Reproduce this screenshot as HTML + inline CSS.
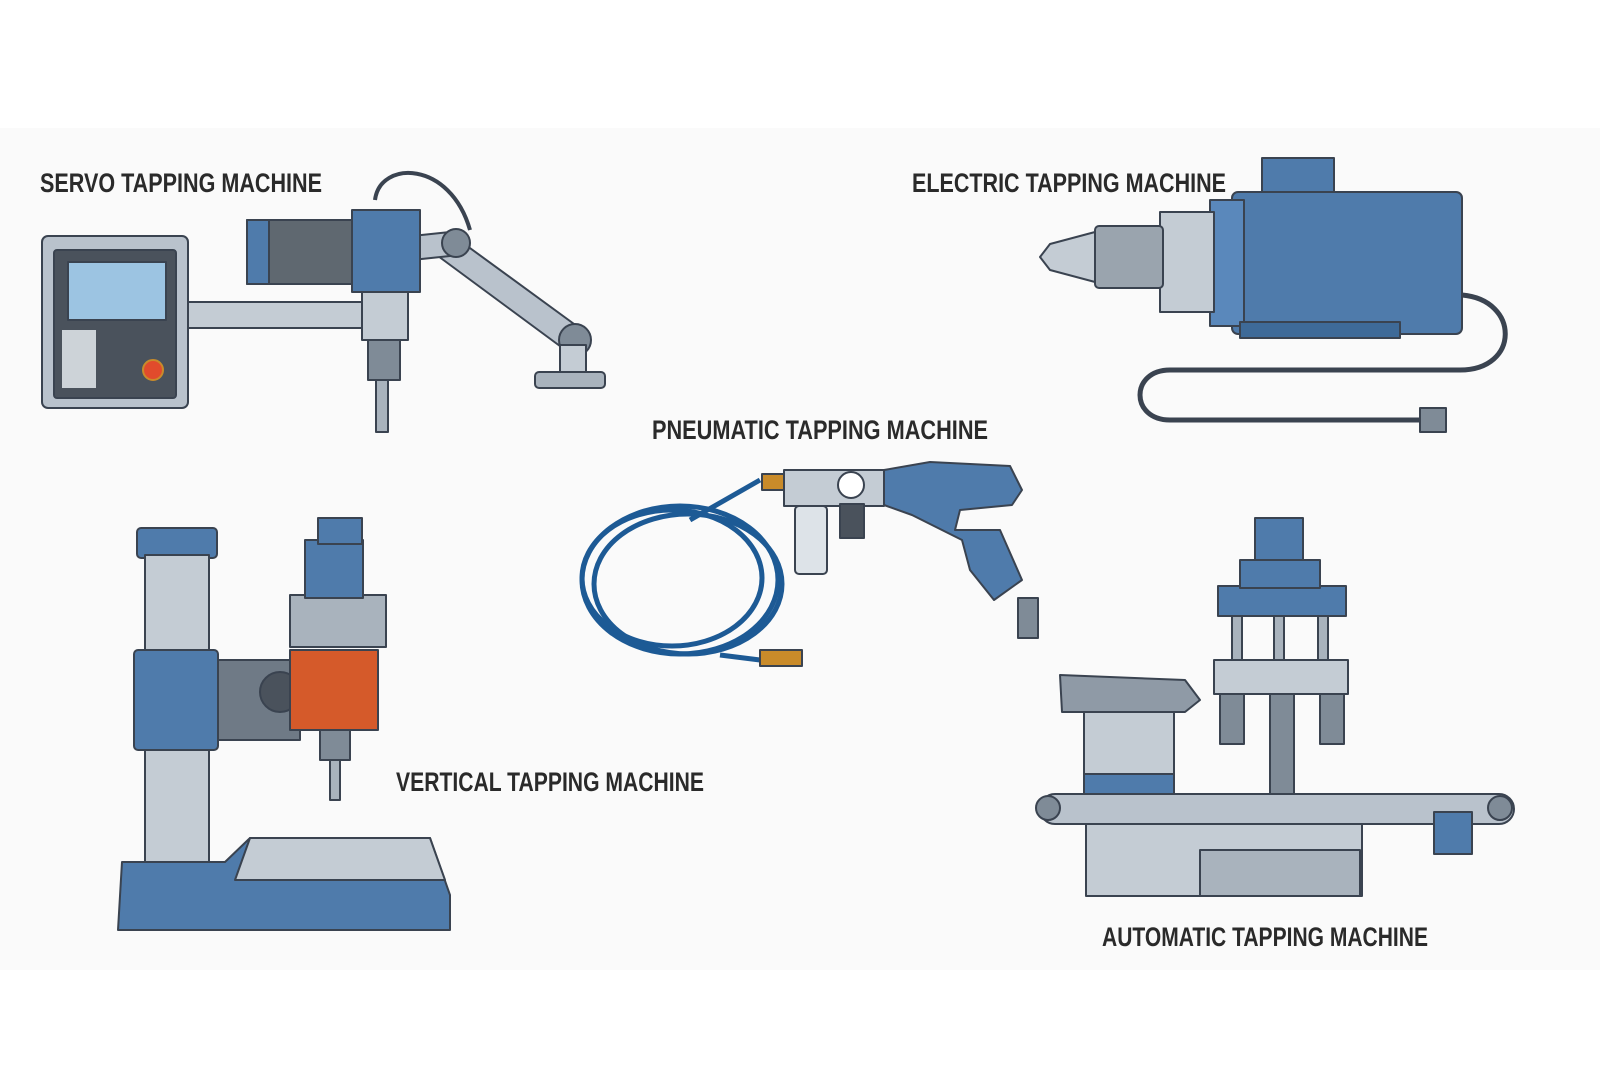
<!DOCTYPE html>
<html><head><meta charset="utf-8"><style>
html,body{margin:0;padding:0;background:#fff}
svg{display:block}
text{font-family:"Liberation Sans Narrow","Liberation Sans",sans-serif;fill:#2a2a2a;font-size:27px;font-weight:bold}
</style></head><body>
<svg width="1600" height="1066" viewBox="0 0 1600 1066" xmlns="http://www.w3.org/2000/svg">
<rect x="0" y="128" width="1600" height="842" fill="#fafafa"/>
<g stroke="#3a4350" stroke-width="2" stroke-linejoin="round">
<!-- SERVO -->
<rect x="42" y="236" width="146" height="172" rx="6" fill="#b9c2cc"/>
<rect x="54" y="250" width="122" height="148" rx="3" fill="#4a525c"/>
<rect x="68" y="262" width="98" height="58" fill="#9cc4e2"/>
<rect x="188" y="302" width="180" height="26" fill="#c4ccd4"/>
<path d="M448 232 L585 332 L568 352 L438 256 Z" fill="#b9c2cc"/>
<path d="M412 236 L450 232 L450 256 L412 260 Z" fill="#b9c2cc"/>
<circle cx="456" cy="243" r="14" fill="#7f8b97"/>
<circle cx="575" cy="340" r="16" fill="#7f8b97"/>
<rect x="560" y="345" width="26" height="30" fill="#c4ccd4"/>
<rect x="535" y="372" width="70" height="16" rx="4" fill="#a9b3bd"/>
<path d="M375 200 C380 160 450 160 470 230" fill="none" stroke-width="4"/>
<rect x="247" y="220" width="110" height="64" fill="#5f6870"/>
<rect x="247" y="220" width="22" height="64" fill="#4f7bab"/>
<rect x="352" y="210" width="68" height="82" fill="#4f7bab"/>
<rect x="362" y="292" width="46" height="48" fill="#c4ccd4"/>
<rect x="368" y="340" width="32" height="40" fill="#7f8b97"/>
<rect x="376" y="380" width="12" height="52" fill="#a9b3bd"/>
<rect x="62" y="330" width="100" height="58" fill="#4a525c" stroke="none"/>
<rect x="62" y="330" width="34" height="58" fill="#cdd3d8" stroke="none"/>
<circle cx="153" cy="370" r="10" fill="#e14b2c" stroke="#c98b2a"/>
<!-- ELECTRIC -->
<rect x="1262" y="158" width="72" height="40" fill="#4f7bab"/>
<rect x="1232" y="192" width="230" height="142" rx="6" fill="#4f7bab"/>
<rect x="1210" y="200" width="34" height="126" fill="#5a88bb"/>
<rect x="1160" y="212" width="54" height="100" fill="#c4ccd4"/>
<rect x="1095" y="226" width="68" height="62" rx="4" fill="#9aa4ae"/>
<path d="M1095 232 L1050 244 L1040 257 L1050 270 L1095 282 Z" fill="#c4ccd4"/>
<rect x="1240" y="322" width="160" height="16" fill="#3e6a98"/>
<path d="M1462 295 C1520 300 1520 370 1460 370 L1170 370 C1130 370 1130 420 1170 420 L1420 420" fill="none" stroke-width="5"/>
<rect x="1420" y="408" width="26" height="24" fill="#7f8b97"/>
<!-- PNEUMATIC -->
<g fill="none" stroke="#1d5a95" stroke-width="5">
<ellipse cx="680" cy="580" rx="98" ry="74"/>
<ellipse cx="672" cy="578" rx="90" ry="68"/>
<ellipse cx="688" cy="584" rx="94" ry="70"/>
</g>
<path d="M760 480 L690 520" stroke="#1d5a95" stroke-width="5"/>
<path d="M720 655 L760 660" stroke="#1d5a95" stroke-width="5"/>
<rect x="760" y="650" width="42" height="16" fill="#c98b2a"/>
<rect x="762" y="474" width="22" height="16" fill="#c98b2a"/>
<rect x="784" y="470" width="100" height="36" fill="#c4ccd4"/>
<circle cx="851" cy="485" r="13" fill="#fff"/>
<rect x="795" y="506" width="32" height="68" rx="4" fill="#dde3e8"/>
<rect x="840" y="504" width="24" height="34" fill="#4a525c"/>
<path d="M884 470 L930 462 L1010 466 L1022 490 L1012 505 L960 510 L955 530 L1000 530 L1022 580 L994 600 L970 570 L962 540 L912 515 L884 505 Z" fill="#4f7bab"/>
<rect x="1018" y="598" width="20" height="40" fill="#7f8b97"/>
<!-- VERTICAL -->
<rect x="137" y="528" width="80" height="30" rx="4" fill="#4f7bab"/>
<rect x="145" y="555" width="64" height="310" fill="#c4ccd4"/>
<rect x="134" y="650" width="84" height="100" rx="4" fill="#4f7bab"/>
<path d="M218 660 L300 660 L300 740 L218 740 Z" fill="#6f7a86"/>
<circle cx="280" cy="692" r="20" fill="#4a525c"/>
<rect x="290" y="595" width="96" height="52" fill="#a9b3bd"/>
<rect x="290" y="650" width="88" height="80" fill="#d55a2a"/>
<rect x="305" y="540" width="58" height="58" fill="#4f7bab"/>
<rect x="318" y="518" width="44" height="26" fill="#4f7bab"/>
<rect x="320" y="730" width="30" height="30" fill="#7f8b97"/>
<rect x="330" y="760" width="10" height="40" fill="#a9b3bd"/>
<path d="M122 862 L225 862 L250 838 L430 838 L450 895 L450 930 L118 930 Z" fill="#4f7bab"/>
<path d="M250 838 L430 838 L445 880 L235 880 Z" fill="#c4ccd4"/>
<!-- AUTOMATIC -->
<rect x="1255" y="518" width="48" height="44" fill="#4f7bab"/>
<rect x="1218" y="586" width="128" height="30" fill="#4f7bab"/>
<rect x="1240" y="560" width="80" height="28" fill="#4f7bab"/>
<rect x="1214" y="660" width="134" height="34" fill="#c4ccd4"/>
<rect x="1232" y="616" width="10" height="44" fill="#a9b3bd"/>
<rect x="1274" y="616" width="10" height="44" fill="#a9b3bd"/>
<rect x="1318" y="616" width="10" height="44" fill="#a9b3bd"/>
<rect x="1220" y="694" width="24" height="50" fill="#7f8b97"/>
<rect x="1270" y="694" width="24" height="100" fill="#7f8b97"/>
<rect x="1320" y="694" width="24" height="50" fill="#7f8b97"/>
<path d="M1060 675 L1185 680 L1200 700 L1185 712 L1062 712 Z" fill="#8f9aa6"/>
<rect x="1084" y="712" width="90" height="62" fill="#c4ccd4"/>
<rect x="1084" y="774" width="90" height="22" fill="#4f7bab"/>
<rect x="1040" y="794" width="474" height="30" rx="15" fill="#b9c2cc"/>
<circle cx="1048" cy="808" r="12" fill="#7f8b97"/>
<circle cx="1500" cy="808" r="12" fill="#7f8b97"/>
<rect x="1086" y="824" width="276" height="72" fill="#c4ccd4"/>
<rect x="1200" y="850" width="160" height="46" fill="#a9b3bd"/>
<rect x="1434" y="812" width="38" height="42" fill="#4f7bab"/>
</g>
<text x="40" y="192" textLength="282" lengthAdjust="spacingAndGlyphs">SERVO TAPPING MACHINE</text>
<text x="912" y="192" textLength="314" lengthAdjust="spacingAndGlyphs">ELECTRIC TAPPING MACHINE</text>
<text x="652" y="439" textLength="336" lengthAdjust="spacingAndGlyphs">PNEUMATIC TAPPING MACHINE</text>
<text x="396" y="791" textLength="308" lengthAdjust="spacingAndGlyphs">VERTICAL TAPPING MACHINE</text>
<text x="1102" y="946" textLength="326" lengthAdjust="spacingAndGlyphs">AUTOMATIC TAPPING MACHINE</text>
</svg>
</body></html>
